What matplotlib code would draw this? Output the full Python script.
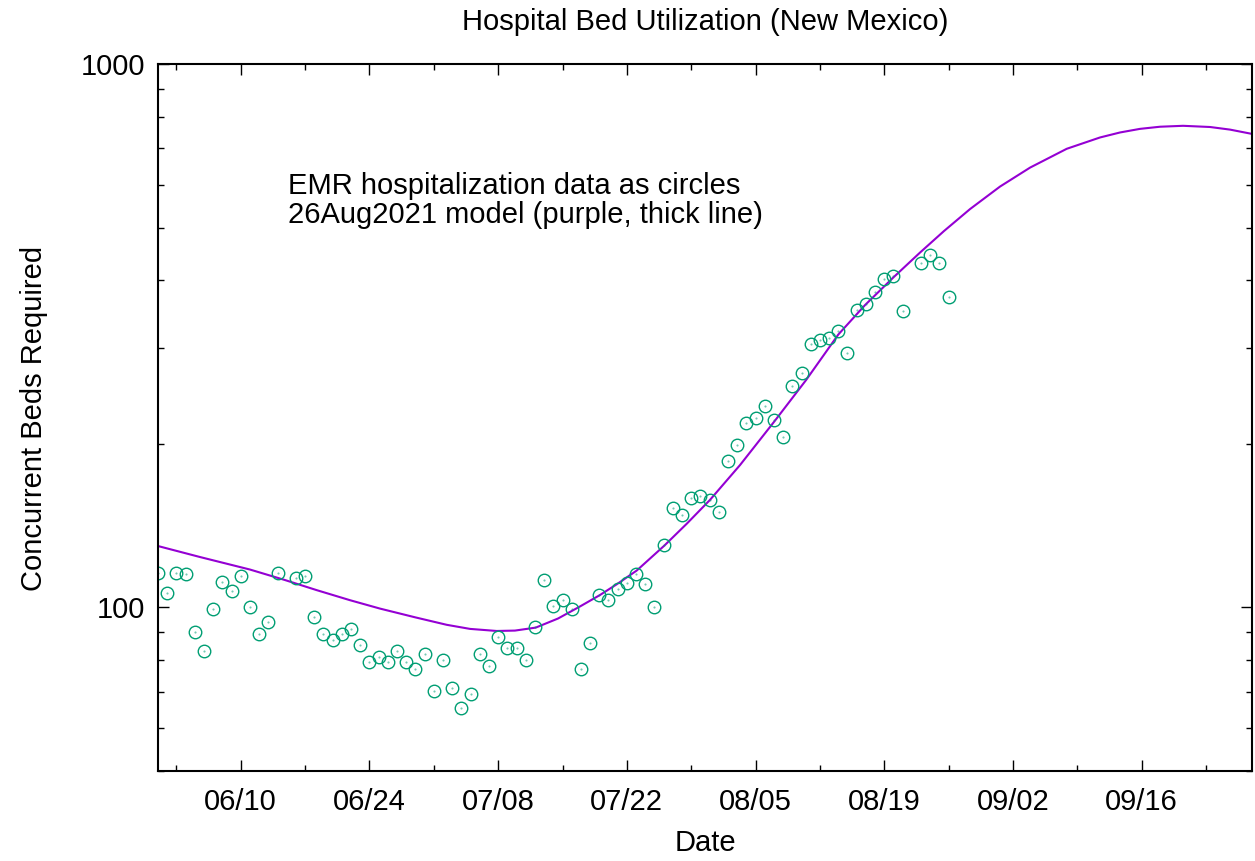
import numpy as np
import matplotlib
matplotlib.use("Agg")
from matplotlib import pyplot as plt
import matplotlib.dates as mdates
import matplotlib.ticker as ticker

plt.rcParams['font.family'] = ['Liberation Sans', 'DejaVu Sans']

# --------- DATA ---------
start_date = np.datetime64('2021-06-01')

# daily EMR hospitalization counts from 06/01 (nan = no report that day)
beds = [115.9, 106.1, 115.9, 115.0, 90.0, 83.0, 99.2, 111.2, 107.0, 114.0,
        100.0, 89.2, 93.9, 115.9, np.nan, 113.3, 114.0, 95.9, 89.2, 87.0,
        89.2, 91.1, 85.1, 79.2, 80.9, 79.2, 83.0, 79.2, 76.9, 82.0,
        70.1, 79.9, 71.0, 65.2, 69.2, 82.0, 77.9, 88.1, 84.1, 84.1,
        79.9, 91.9, 112.1, 100.8, 103.0, 99.2, 76.9, 85.9, 105.2, 103.0,
        107.9, 110.7, 115.0, 110.2, 100.0, 130.0, 152.1, 148.2, 159.3, 160.6,
        157.9, 150.1, 186.3, 199.4, 218.9, 223.6, 235.1, 221.6, 206.3, 255.9,
        270.4, 305.7, 311.0, 313.6, 323.1, 294.2, 353.0, 362.1, 381.0, 402.5,
        407.6, 351.6, np.nan, 430.7, 445.5, 430.7, 373.0]

# 26Aug2021 model curve (day offset from 06/01, beds)
model_day = [0.0, 4.57, 10.01, 13.81, 17.26, 20.89, 24.15, 27.96, 31.40, 33.94,
             36.84, 38.83, 41.09, 43.51, 45.90, 48.08, 50.04, 52.07, 55.07, 57.54,
             60.04, 63.31, 67.08, 70.49, 74.0, 76.91, 80.03, 82.89, 85.50, 88.33,
             91.59, 94.86, 98.85, 102.47, 104.65, 106.82, 109.0, 111.5, 114.44, 116.61,
             119.11]
model_beds = [129.7, 123.8, 117.4, 112.3, 107.6, 103.1, 99.5, 95.9, 92.9, 91.3,
              90.5, 90.65, 91.8, 95.4, 100.4, 105.4, 110.7, 116.9, 129.9, 142.7,
              157.7, 182.8, 220.3, 262.0, 317.8, 360.1, 405.4, 449.8, 492.8, 540.8,
              594.9, 644.7, 698.2, 732.5, 748.2, 759.7, 766.6, 769.6, 765.7, 757.3,
              743.0]

title = "Hospital Bed Utilization (New Mexico)"
note_lines = ["EMR hospitalization data as circles",
              "26Aug2021 model (purple, thick line)"]

# -----------------------

FS = 21

start_num = mdates.date2num(start_date.astype(object))
data_x = start_num + np.arange(len(beds))
model_x = start_num + np.array(model_day)

fig = plt.figure(figsize=(12.55, 8.61), dpi=100)
ax = fig.add_axes([158/1255, 1 - 771/861, 1094/1255, 707/861])

ax.plot(model_x, model_beds, '-', color='#9400d3', lw=1.5)
ax.plot(data_x, beds, 'o', mfc='none', mec='#009e73', mew=1.0, ms=9, ls='none')
ax.plot(data_x, beds, 'o', color='#009e73', ms=0.5, alpha=0.6, ls='none')

ax.set_yscale('log')
ax.set_ylim(50, 1000)
ax.set_xlim(start_num, start_num + 119)
ax.xaxis_date()

major_days = np.arange(np.datetime64('2021-06-10'), np.datetime64('2021-09-29'), 14)
minor_days = np.arange(np.datetime64('2021-06-03'), np.datetime64('2021-09-29'), 7)
ax.xaxis.set_major_locator(ticker.FixedLocator([mdates.date2num(d.astype(object)) for d in major_days]))
ax.xaxis.set_minor_locator(ticker.FixedLocator([mdates.date2num(d.astype(object)) for d in minor_days]))
ax.xaxis.set_major_formatter(mdates.DateFormatter('%m/%d'))

ax.yaxis.set_major_locator(ticker.LogLocator(base=10))
ax.yaxis.set_minor_locator(ticker.LogLocator(base=10, subs=np.arange(2, 10)))
ax.yaxis.set_major_formatter(ticker.FuncFormatter(lambda v, p: "%d" % v))
ax.yaxis.set_minor_formatter(ticker.NullFormatter())

ax.tick_params(which='both', direction='in', top=True, right=True, width=1.0, labelsize=FS)
ax.tick_params(which='major', length=8)
ax.tick_params(which='minor', length=4)
ax.tick_params(axis='x', pad=12)
ax.tick_params(axis='y', pad=9)
for s in ax.spines.values():
    s.set_linewidth(1.5)

ax.set_xlabel("Date", fontsize=FS, va='center')
ax.xaxis.set_label_coords(0.5, -0.102)
ax.set_ylabel("Concurrent Beds Required", fontsize=FS, va='center')
ax.yaxis.set_label_coords(-0.113, 0.498)

fig.text(705/1255, 1 - 22/861, title, fontsize=FS, ha='center', va='center')
ax.text(0.1188, 0.8275, note_lines[0], transform=ax.transAxes, fontsize=FS, va='center')
ax.text(0.1188, 0.786, note_lines[1], transform=ax.transAxes, fontsize=FS, va='center')

fig.savefig("out.png", dpi=100)
